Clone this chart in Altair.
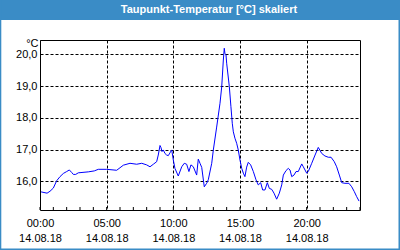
import altair as alt
import pandas as pd

# hours since 00:00 on 14.08.18
hours = [0.08, 0.53, 0.75, 1.0, 1.25, 1.5, 1.75, 2.0, 2.2, 2.38, 2.5, 2.68, 2.87, 3.62, 4.07, 4.37,
         5.0, 5.75, 6.0, 6.25, 6.75, 7.25, 7.63, 8.0, 8.25, 8.5, 8.75, 8.87, 9.0, 9.07, 9.15, 9.25,
         9.37, 9.5, 9.62, 9.75, 9.88, 10.0, 10.12, 10.37, 10.63, 10.82, 11.0, 11.17, 11.32, 11.5,
         11.75, 11.87, 12.0, 12.13, 12.32, 12.5, 12.62, 12.88, 13.0, 13.25, 13.5, 13.63, 13.75,
         13.82, 13.87, 13.95, 14.0, 14.2, 14.32, 14.42, 14.5, 14.62, 14.75, 14.87, 15.0, 15.13,
         15.25, 15.37, 15.5, 15.62, 15.8, 16.0, 16.2, 16.37, 16.55, 16.7, 16.87, 17.05, 17.2,
         17.38, 17.55, 17.75, 17.95, 18.13, 18.25, 18.45, 18.62, 18.75, 18.88, 19.05, 19.2, 19.37,
         19.63, 19.75, 20.0, 20.12, 20.38, 20.63, 20.87, 21.13, 21.37, 21.62, 21.83, 22.07, 22.25,
         22.45, 22.63, 22.87, 23.17, 23.38, 23.57, 23.75, 23.93]
dewpoint = [15.67, 15.63, 15.69, 15.79, 16.02, 16.15, 16.25, 16.31, 16.36, 16.28, 16.22, 16.22,
            16.27, 16.30, 16.33, 16.38, 16.38, 16.35, 16.43, 16.51, 16.57, 16.54, 16.57, 16.52,
            16.46, 16.54, 16.62, 16.83, 17.13, 17.07, 16.94, 16.99, 16.88, 16.83, 16.81, 16.90,
            16.99, 16.67, 16.41, 16.17, 16.46, 16.57, 16.54, 16.31, 16.52, 16.46, 16.20, 16.70,
            16.57, 16.44, 15.83, 15.94, 16.05, 16.57, 16.99, 17.71, 18.46, 18.98, 19.82, 20.19,
            20.03, 19.98, 19.72, 18.98, 18.35, 17.83, 17.56, 17.36, 17.20, 16.99, 16.67, 16.41,
            16.26, 16.15, 16.45, 16.60, 16.52, 16.31, 16.05, 15.89, 15.96, 15.73, 15.73, 15.96,
            15.78, 15.75, 15.63, 15.44, 15.63, 15.89, 16.20, 16.34, 16.41, 16.36, 16.15, 16.20,
            16.31, 16.31, 16.55, 16.46, 16.26, 16.31, 16.57, 16.83, 17.07, 16.88, 16.80, 16.76,
            16.76, 16.62, 16.46, 16.20, 15.96, 15.94, 15.94, 15.83, 15.68, 15.52, 15.38]

x_ticks = [0, 5, 10, 15, 20]
x_tick_labels = ["00:00", "05:00", "10:00", "15:00", "20:00"]
date_label = "14.08.18"
y_ticks = [16, 17, 18, 19, 20]
minor_hours = list(range(0, 25))
title_text = "Taupunkt-Temperatur [°C] skaliert"

FONT = "Liberation Sans Narrow, Liberation Sans, sans-serif"
TITLE_FONT = "Liberation Sans, sans-serif"
BLUE_FRAME = "#3A8CC6"

df = pd.DataFrame({"h": hours, "t": dewpoint})

expr = "'" + x_tick_labels[-1] + "'"
for v, lab in reversed(list(zip(x_ticks[:-1], x_tick_labels[:-1]))):
    expr = f"datum.value == {v} ? '{lab}' : ({expr})"
x_label_expr = f"[{expr}, '{date_label}']"

x_scale = alt.Scale(domain=[0, 24], nice=False, zero=False)
y_scale = alt.Scale(domain=[15.1, 20.45], nice=False, zero=False)

line = alt.Chart(df).mark_line(color="#0000FF", strokeWidth=1).encode(
    x=alt.X("h:Q", scale=x_scale,
            axis=alt.Axis(values=x_ticks, labelExpr=x_label_expr, title=None,
                          grid=True, gridColor="black", gridDash=[3, 2], gridOpacity=1,
                          ticks=False, domain=False, labelPadding=7,
                          labelFlush=False, labelOverlap=False, labelAlign="center",
                          labelLineHeight=15, labelBaseline="top",
                          labelFont=FONT, labelFontSize=11, labelColor="black")),
    y=alt.Y("t:Q", scale=y_scale,
            axis=alt.Axis(values=y_ticks,
                          labelExpr="replace(format(datum.value, '.1f'), '.', ',')",
                          title="°C", titleAngle=0, titleAlign="right", titleBaseline="middle",
                          titleX=-2, titleY=3, titleFont=FONT, titleFontSize=11,
                          titleFontWeight="normal", titleColor="black",
                          grid=True, gridColor="black", gridDash=[3, 2], gridOpacity=1,
                          ticks=False, domain=False, labelPadding=3,
                          labelFlush=False, labelOverlap=False,
                          labelFont=FONT, labelFontSize=11, labelColor="black")),
)

minor = alt.Chart(pd.DataFrame({"h": minor_hours})).mark_rule(color="black", strokeWidth=1).encode(
    x=alt.X("h:Q", scale=x_scale),
    y=alt.value(167),
    y2=alt.value(170),
)

one = alt.Data(values=[{"k": 0}])
top_bar = alt.Chart(one).mark_rect(color=BLUE_FRAME).encode(
    x=alt.value(-40), x2=alt.value(360), y=alt.value(-40), y2=alt.value(-20))
left_bar = alt.Chart(one).mark_rect(color=BLUE_FRAME).encode(
    x=alt.value(-40), x2=alt.value(-38.7), y=alt.value(-40), y2=alt.value(210))
right_bar = alt.Chart(one).mark_rect(color=BLUE_FRAME).encode(
    x=alt.value(358.5), x2=alt.value(360), y=alt.value(-40), y2=alt.value(210))
bottom_bar = alt.Chart(one).mark_rect(color=BLUE_FRAME).encode(
    x=alt.value(-40), x2=alt.value(360), y=alt.value(208.5), y2=alt.value(210))
title = alt.Chart(one).mark_text(color="white", font=TITLE_FONT,
                                 fontSize=11, fontWeight="bold", align="center", baseline="middle").encode(
    x=alt.value(169), y=alt.value(-30), text=alt.value(title_text))

chart = alt.layer(top_bar, left_bar, right_bar, bottom_bar, title, minor, line).properties(
    width=320, height=170,
    autosize=alt.AutoSizeParams(type="none"),
    padding={"left": 40, "top": 40, "right": 40, "bottom": 40},
).configure(background="white").configure_view(stroke="black", strokeWidth=1)

chart.save("out.html", embed_options={"renderer": "svg", "actions": False})
